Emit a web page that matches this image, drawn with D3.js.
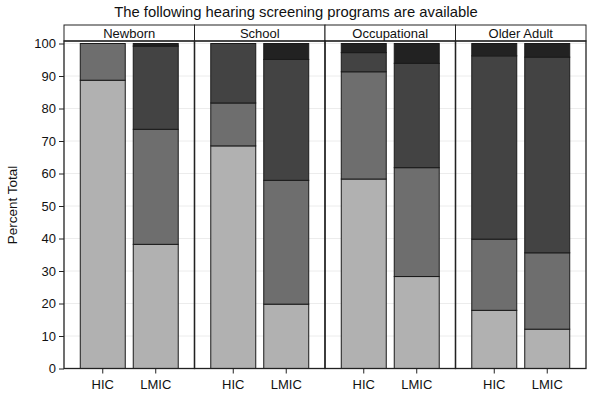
<!DOCTYPE html>
<html><head><meta charset="utf-8">
<script src="https://cdn.jsdelivr.net/npm/d3@7"></script>
<style>body{margin:0;background:#fff}svg{display:block}text{font-family:"Liberation Sans",Arial,sans-serif}</style>
</head><body>
<svg id="c" width="600" height="400"></svg>
<script>
const programs = ["Newborn","School","Occupational","Older Adult"];
const groups = ["HIC","LMIC"];
const segmentKeys = ["s1","s2","s3","s4"];
const segmentColors = ["#b1b1b1","#6e6e6e","#434343","#222222"];
// values per program/group in order s1..s4 (percent)
const newbornHIC = [88.7, 11.3, 0, 0];
const newbornLMIC = [38.2, 35.4, 25.6, 0.8];
const schoolHIC = [68.5, 13.2, 18.3, 0];
const schoolLMIC = [19.8, 38.1, 37.2, 4.9];
const occupationalHIC = [58.3, 33.0, 5.9, 2.8];
const occupationalLMIC = [28.3, 33.5, 32.1, 6.1];
const olderHIC = [17.9, 21.9, 56.4, 3.8];
const olderLMIC = [12.1, 23.5, 60.2, 4.2];
const yTicks = [0,10,20,30,40,50,60,70,80,90,100];

const table = [
  [newbornHIC, newbornLMIC],
  [schoolHIC, schoolLMIC],
  [occupationalHIC, occupationalLMIC],
  [olderHIC, olderLMIC]
];
const rows = [];
programs.forEach((p,i)=>groups.forEach((g,j)=>{
  const r = {program:p, group:g};
  segmentKeys.forEach((k,m)=>r[k]=table[i][j][m]);
  rows.push(r);
}));

const svg = d3.select("#c");
const mLeft = 64, mRight = 586, mTop = 41, mBottom = 368.5, stripTop = 25;
const y = d3.scaleLinear().domain([0,100]).range([368.5, 43.5]);
const xp = d3.scaleBand().domain(programs).range([mLeft,mRight]).paddingInner(0);
const xg = d3.scaleBand().domain(groups).range([0, xp.bandwidth()]).paddingInner(8/53).paddingOuter(0.307);
const font = "Liberation Sans, Arial, sans-serif";

// title
svg.append("text").attr("x",296).attr("y",16.5).attr("text-anchor","middle")
  .attr("font-size",14.8).attr("fill","#111").text("The following hearing screening programs are available");

// gridlines
svg.append("g").selectAll("line").data(yTicks.slice(1)).join("line")
  .attr("x1",mLeft).attr("x2",mRight).attr("y1",d=>y(d)).attr("y2",d=>y(d))
  .attr("stroke","#ececec").attr("stroke-width",1);

const stack = d3.stack().keys(segmentKeys)(rows);

const panels = svg.append("g");
programs.forEach((p,i)=>{
  const x0 = xp(p);
  const g = panels.append("g").attr("transform",`translate(${x0},0)`);
  g.append("rect").attr("x",0).attr("y",stripTop).attr("width",xp.bandwidth()).attr("height",mTop-stripTop)
    .attr("fill","#fff").attr("stroke","#222").attr("stroke-width",1);
  g.append("text").attr("x",xp.bandwidth()/2).attr("y",37.5).attr("text-anchor","middle")
    .attr("font-size",13).attr("fill","#111").text(p);
});

// bars
stack.forEach((layer,li)=>{
  svg.append("g").selectAll("rect").data(layer.filter(d=>d[1]-d[0]>0)).join("rect")
    .attr("x",d=>xp(d.data.program)+xg(d.data.group))
    .attr("width",xg.bandwidth())
    .attr("y",d=>y(d[1]))
    .attr("height",d=>y(d[0])-y(d[1]))
    .attr("fill",segmentColors[li])
    .attr("stroke","#1a1a1a").attr("stroke-width",1);
});

// panel borders
programs.forEach(p=>{
  svg.append("rect").attr("x",xp(p)).attr("y",mTop).attr("width",xp.bandwidth()).attr("height",mBottom-mTop)
    .attr("fill","none").attr("stroke","#222").attr("stroke-width",1.3);
});

// y axis
const ya = svg.append("g").attr("transform",`translate(${mLeft},0)`)
  .call(d3.axisLeft(y).tickValues(yTicks).tickSize(5).tickPadding(3));
ya.select(".domain").remove();
ya.selectAll("line").attr("stroke","#222");
ya.selectAll("text").attr("font-size",13).attr("fill","#111").attr("font-family",font);

// x axes per panel
programs.forEach(p=>{
  const sc = d3.scaleBand().domain(groups).range([xp(p), xp(p)+xp.bandwidth()])
    .paddingInner(8/53).paddingOuter(0.307);
  const xa = svg.append("g").attr("transform",`translate(0,${mBottom})`)
    .call(d3.axisBottom(sc).tickSize(5).tickPadding(6));
  xa.select(".domain").remove();
  xa.selectAll("line").attr("stroke","#222");
  xa.selectAll("text").attr("font-size",13).attr("fill","#111").attr("font-family",font);
});

// y label
svg.append("text").attr("transform","translate(17,205) rotate(-90)").attr("text-anchor","middle")
  .attr("font-size",13.5).attr("fill","#111").text("Percent Total");
</script>
</body></html>
